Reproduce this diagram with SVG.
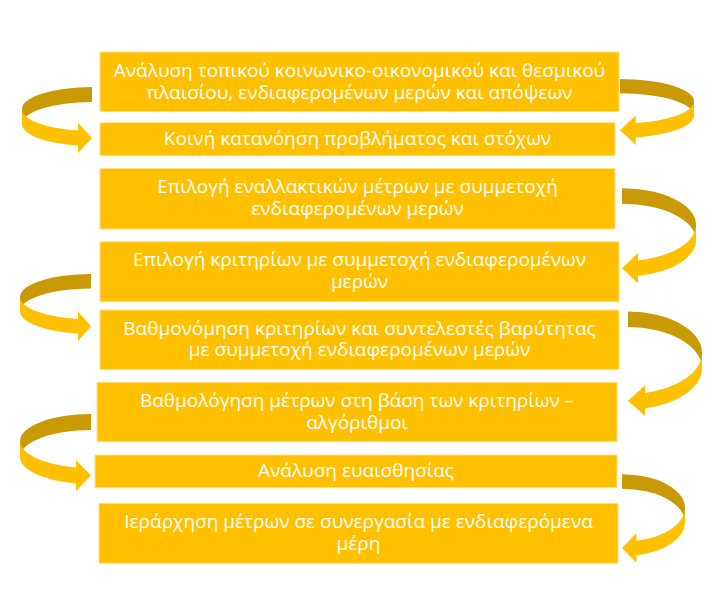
<svg xmlns="http://www.w3.org/2000/svg" width="728" height="597" viewBox="0 0 728 597">
<style>
.box{fill:#FFC000;stroke:#FFE08A;stroke-width:1}
.t{font-family:"Open Sans","Liberation Sans",Arial,sans-serif;font-size:19px;fill:#FFFFFF;text-anchor:middle}
.back{fill:#C99A06}
.front{fill:#FFC000}
</style>
<rect width="728" height="597" fill="#FFFFFF"/>
<g id="connectors">
<g id="arrow-l1">
<path class="back" d="M92,87 A70,22 0 0 0 22,109 L22,124 A70,22 0 0 1 92,102 Z"/>
<path class="front" d="M22,109 A70,22 0 0 0 78,130.56 L78,123 L92,138.06 L78,153.06 L78,145.56 A70,22 0 0 1 22,124 Z"/>
</g>
<g id="arrow-r1">
<path class="back" d="M620,79 A74,22.3 0 0 1 694,101.3 L694,115.6 A74,22.3 0 0 0 620,93.3 Z"/>
<path class="front" d="M694,101.3 A74,22.3 0 0 1 635.7,123.09 L635.7,115.6 L620,130.24 L635.7,144.9 L635.7,137.39 A74,22.3 0 0 0 694,115.6 Z"/>
</g>
<g id="arrow-r2">
<path class="back" d="M622,188.3 A74,36.5 0 0 1 696,224.8 L696,240.3 A74,36.5 0 0 0 622,203.8 Z"/>
<path class="front" d="M696,224.8 A74,36.5 0 0 1 638,260.44 L638,252.9 L622,268.2 L638,283.4 L638,275.94 A74,36.5 0 0 0 696,240.3 Z"/>
</g>
<g id="arrow-l2">
<path class="back" d="M91,274 A71,22.7 0 0 0 20,296.7 L20,311.2 A71,22.7 0 0 1 91,288.5 Z"/>
<path class="front" d="M20,296.7 A71,22.7 0 0 0 78,319.02 L78,311.5 L91,326.27 L78,341.02 L78,333.52 A71,22.7 0 0 1 20,311.2 Z"/>
</g>
<g id="arrow-r3">
<path class="back" d="M628,311.6 A74,41.2 0 0 1 702,352.8 L702,368.3 A74,41.2 0 0 0 628,327.1 Z"/>
<path class="front" d="M702,352.8 A74,41.2 0 0 1 645,392.9 L645,385.4 L628,400.65 L645,415.9 L645,408.4 A74,41.2 0 0 0 702,368.3 Z"/>
</g>
<g id="arrow-l3">
<path class="back" d="M91,414 A71,27 0 0 0 20,441 L20,457 A71,27 0 0 1 91,430 Z"/>
<path class="front" d="M20,441 A71,27 0 0 0 76,467.39 L76,459.9 L91,475.39 L76,490.89 L76,483.39 A71,27 0 0 1 20,457 Z"/>
</g>
<g id="arrow-r4">
<path class="back" d="M622,474.3 A63,33.7 0 0 1 685,508 L685,522.5 A63,33.7 0 0 0 622,488.8 Z"/>
<path class="front" d="M685,508 A63,33.7 0 0 1 636.5,540.8 L636.5,533.3 L622,548.05 L636.5,562.8 L636.5,555.3 A63,33.7 0 0 0 685,522.5 Z"/>
</g>
</g>
<g id="node1">
<rect class="box" x="100" y="52" width="519" height="59.5"/>
<text class="t" x="359.5" y="76.7">Ανάλυση τοπικού κοινωνικο-οικονομικού και θεσμικού</text>
<text class="t" x="359.5" y="98.5">πλαισίου, ενδιαφερομένων μερών και απόψεων</text>
</g>
<g id="node2">
<rect class="box" x="100" y="122.7" width="515" height="33"/>
<text class="t" x="357.5" y="144.5">Κοινή κατανόηση προβλήματος και στόχων</text>
</g>
<g id="node3">
<rect class="box" x="100" y="168.5" width="515" height="60.5"/>
<text class="t" x="357.5" y="193">Επιλογή εναλλακτικών μέτρων με συμμετοχή</text>
<text class="t" x="357.5" y="215">ενδιαφερομένων μερών</text>
</g>
<g id="node4">
<rect class="box" x="100" y="241.7" width="519" height="60"/>
<text class="t" x="359.5" y="266.2">Επιλογή κριτηρίων με συμμετοχή ενδιαφερομένων</text>
<text class="t" x="359.5" y="288">μερών</text>
</g>
<g id="node5">
<rect class="box" x="100" y="310" width="519" height="59.5"/>
<text class="t" x="359.5" y="334.5">Βαθμονόμηση κριτηρίων και συντελεστές βαρύτητας</text>
<text class="t" x="359.5" y="356.3">με συμμετοχή ενδιαφερομένων μερών</text>
</g>
<g id="node6">
<rect class="box" x="97" y="382.3" width="520" height="59.4"/>
<text class="t" x="357" y="406.8">Βαθμολόγηση μέτρων στη βάση των κριτηρίων –</text>
<text class="t" x="357" y="428.6">αλγόριθμοι</text>
</g>
<g id="node7">
<rect class="box" x="95" y="455" width="522" height="32.7"/>
<text class="t" x="356" y="476.8">Ανάλυση ευαισθησίας</text>
</g>
<g id="node8">
<rect class="box" x="99" y="503.3" width="519" height="60"/>
<text class="t" x="358.5" y="527.8">Ιεράρχηση μέτρων σε συνεργασία με ενδιαφερόμενα</text>
<text class="t" x="358.5" y="549.6">μέρη</text>
</g>
</svg>
